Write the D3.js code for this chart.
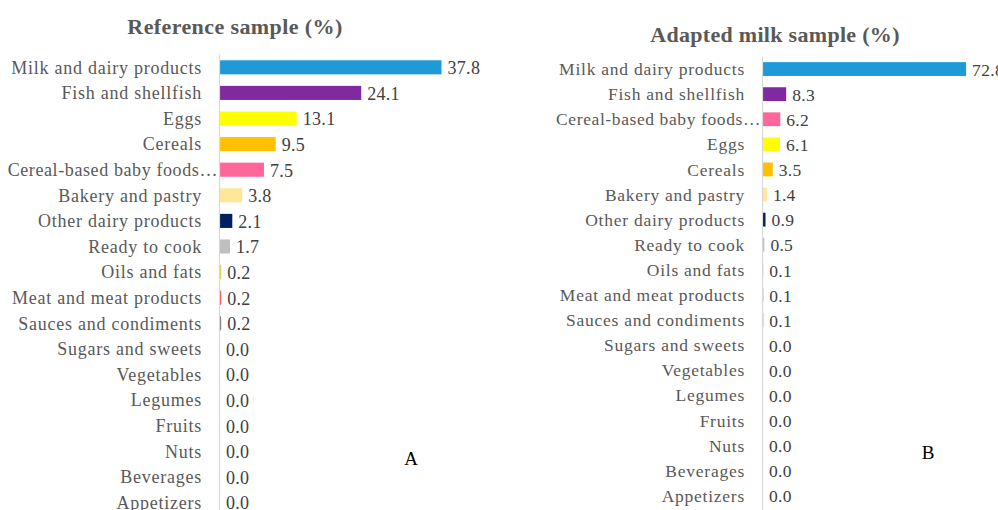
<!DOCTYPE html>
<html><head><meta charset="utf-8">
<script src="https://cdn.jsdelivr.net/npm/d3@7"></script>
<style>body{margin:0;background:#fff}svg{display:block}</style>
</head><body>
<svg id="c" width="998" height="510"></svg>
<script>
const refCategories = ["Milk and dairy products","Fish and shellfish","Eggs","Cereals","Cereal-based baby foods…","Bakery and pastry","Other dairy products","Ready to cook","Oils and fats","Meat and meat products","Sauces and condiments","Sugars and sweets","Vegetables","Legumes","Fruits","Nuts","Beverages","Appetizers"];
const refValues = [37.8,24.1,13.1,9.5,7.5,3.8,2.1,1.7,0.2,0.2,0.2,0,0,0,0,0,0,0];
const adaCategories = ["Milk and dairy products","Fish and shellfish","Cereal-based baby foods…","Eggs","Cereals","Bakery and pastry","Other dairy products","Ready to cook","Oils and fats","Meat and meat products","Sauces and condiments","Sugars and sweets","Vegetables","Legumes","Fruits","Nuts","Beverages","Appetizers"];
const adaValues = [72.8,8.3,6.2,6.1,3.5,1.4,0.9,0.5,0.1,0.1,0.1,0,0,0,0,0,0,0];
const categoryColors = {
  "Milk and dairy products":"#1E9BD7","Fish and shellfish":"#7F2AA0","Eggs":"#FFFF00","Cereals":"#FFC000",
  "Cereal-based baby foods…":"#FF6699","Bakery and pastry":"#FFE699","Other dairy products":"#002060",
  "Ready to cook":"#BFBFBF","Oils and fats":"#D6D24A","Meat and meat products":"#FF5050","Sauces and condiments":"#808080",
  "Sugars and sweets":"#A9D18E","Vegetables":"#70AD47","Legumes":"#C55A11","Fruits":"#FF0000","Nuts":"#843C0C","Beverages":"#5B9BD5","Appetizers":"#ED7D31"};
const titles = ["Reference sample (%)","Adapted milk sample (%)"];
const panelLetters = ["A","B"];

const FONT = "'Liberation Serif', serif";
const svg = d3.select("#c");

function panel(cfg){
  const g = svg.append("g");
  const y = d3.scaleBand().domain(cfg.cats).range([cfg.y0, cfg.y0 + cfg.step*cfg.cats.length]).paddingInner(0.45).paddingOuter(0.225);
  const x = d3.scaleLinear().domain([0, cfg.dmax]).range([cfg.x0, cfg.x0 + cfg.pxPer*cfg.dmax]);
  g.append("text").attr("x", cfg.tx).attr("y", cfg.ty).attr("text-anchor","middle")
    .attr("font-family",FONT).attr("font-weight","bold").attr("font-size",22).attr("letter-spacing",cfg.tls).attr("fill","#595959").text(cfg.title);
  g.selectAll("rect.bar").data(cfg.cats).enter().append("rect").attr("class","bar")
    .attr("x", x(0)).attr("y", d=>y(d)).attr("height", y.bandwidth())
    .attr("width", (d,i)=>x(cfg.vals[i])-x(0)).attr("fill", d=>categoryColors[d]);
  g.append("line").attr("x1",x(0)-0.5).attr("x2",x(0)-0.5).attr("y1",cfg.y0).attr("y2",510).attr("stroke","#D9D9D9").attr("stroke-width",1.2);
  const trunc = d => d.endsWith("…");
  g.selectAll("text.cat").data(cfg.cats).enter().append("text").attr("class","cat")
    .attr("x", d => trunc(d) ? cfg.x0-2 : cfg.x0-18).attr("y", d=>y(d)+y.bandwidth()/2).attr("dy","0.35em").attr("text-anchor","end")
    .attr("font-family",FONT).attr("font-size",cfg.fs).attr("letter-spacing",d => trunc(d) ? 0.6 : cfg.ls).attr("fill","#595959").text(d=>d);
  g.selectAll("text.val").data(cfg.cats).enter().append("text").attr("class","val")
    .attr("x", (d,i)=>x(cfg.vals[i])+6).attr("y", d=>y(d)+y.bandwidth()/2).attr("dy","0.38em")
    .attr("font-family",FONT).attr("font-size",cfg.fs).attr("letter-spacing",0.3).attr("fill","#404040").text((d,i)=>d3.format(".1f")(cfg.vals[i]));
  g.append("text").attr("x",cfg.lx).attr("y",cfg.ly).attr("text-anchor","middle").attr("font-family",FONT)
    .attr("font-size",19).attr("fill","#000").text(cfg.letter);
}
panel({cats:refCategories, vals:refValues, dmax:40, x0:220, pxPer:5.86, y0:54.5, step:25.6, title:titles[0], tx:235, ty:34, lx:411, ly:465, letter:panelLetters[0], fs:18, ls:0.75, tls:0.4});
panel({cats:adaCategories, vals:adaValues, dmax:75, x0:763, pxPer:2.79, y0:56.5, step:25.1, title:titles[1], tx:775, ty:42, lx:928, ly:459, letter:panelLetters[1], fs:17.5, ls:0.75, tls:0.3});
</script>
</body></html>
